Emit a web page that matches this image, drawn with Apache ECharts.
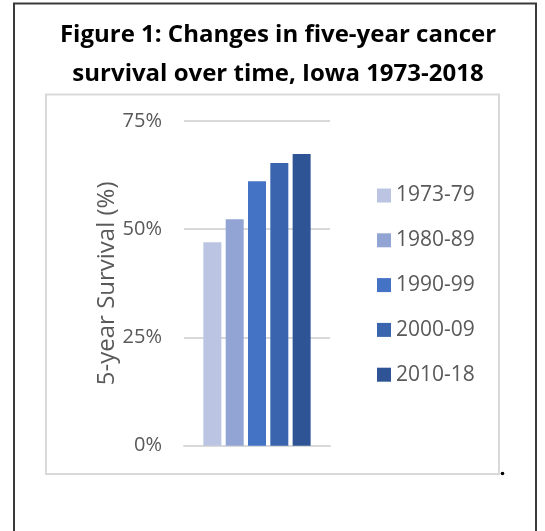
<!DOCTYPE html>
<html>
<head>
<meta charset="utf-8">
<script src="https://cdn.jsdelivr.net/npm/echarts@6/dist/echarts.min.js"></script>
<style>
html, body { margin: 0; padding: 0; background: #fff; }
#chart { width: 545px; height: 531px; }
</style>
</head>
<body>
<div id="chart"></div>
<script>
const periods = ['1973-79', '1980-89', '1990-99', '2000-09', '2010-18']
const survival = [47.0, 52.3, 61.1, 65.3, 67.4]
const colors = ['#BBC4E3', '#91A4D4', '#4472C4', '#3A65AE', '#2F5496']
const yTicks = [0, 25, 50, 75]

const chart = echarts.init(document.getElementById('chart'))

const labelFont = '"Open Sans", "Noto Sans", sans-serif'

const options = {
  animation: false,
  color: colors,
  title: {
    text: 'Figure 1: Changes in five-year cancer\nsurvival over time, Iowa 1973-2018',
    left: 273,
    top: 11,
    textAlign: 'center',
    textStyle: {
      fontFamily: labelFont,
      fontWeight: 'bold',
      fontSize: 24,
      lineHeight: 39,
      color: '#000'
    }
  },
  graphic: [
    {
      type: 'rect',
      shape: { x: 14, y: 3.5, width: 522, height: 540 },
      style: { fill: 'none', stroke: '#3a3a3a', lineWidth: 2 },
      silent: true
    },
    {
      type: 'rect',
      shape: { x: 46, y: 94.5, width: 453, height: 379.5 },
      style: { fill: 'none', stroke: '#d9d9d9', lineWidth: 2 },
      silent: true
    },
    {
      type: 'circle',
      shape: { cx: 502.5, cy: 473.5, r: 1.8 },
      style: { fill: '#000' },
      silent: true
    }
  ],
  legend: {
    orient: 'vertical',
    left: 372,
    top: 180,
    itemWidth: 14,
    itemHeight: 14,
    itemGap: 23.8,
    icon: 'rect',
    data: periods,
    textStyle: {
      fontFamily: labelFont,
      fontSize: 21,
      lineHeight: 21,
      color: '#595959'
    }
  },
  grid: {
    left: 184,
    right: 215,
    top: 121,
    bottom: 85.3
  },
  xAxis: {
    type: 'category',
    data: [''],
    axisTick: { show: false },
    axisLabel: { show: false },
    axisLine: { lineStyle: { color: '#d9d9d9', width: 2 } }
  },
  yAxis: {
    type: 'value',
    min: yTicks[0],
    max: yTicks[yTicks.length - 1],
    interval: 25,
    name: '5-year Survival (%)',
    nameLocation: 'middle',
    nameGap: 64,
    nameTextStyle: {
      fontFamily: labelFont,
      fontSize: 24,
      color: '#595959'
    },
    axisLine: { show: false },
    axisTick: { show: false },
    axisLabel: {
      formatter: '{value}%',
      margin: 22,
      fontFamily: labelFont,
      fontSize: 20,
      color: '#595959'
    },
    splitLine: {
      lineStyle: { color: '#d9d9d9', width: 2 }
    }
  },
  series: periods.map((p, i) => ({
    name: p,
    type: 'bar',
    barWidth: 18,
    barGap: '24%',
    data: [survival[i]]
  }))
}

chart.setOption(options)
</script>
</body>
</html>
